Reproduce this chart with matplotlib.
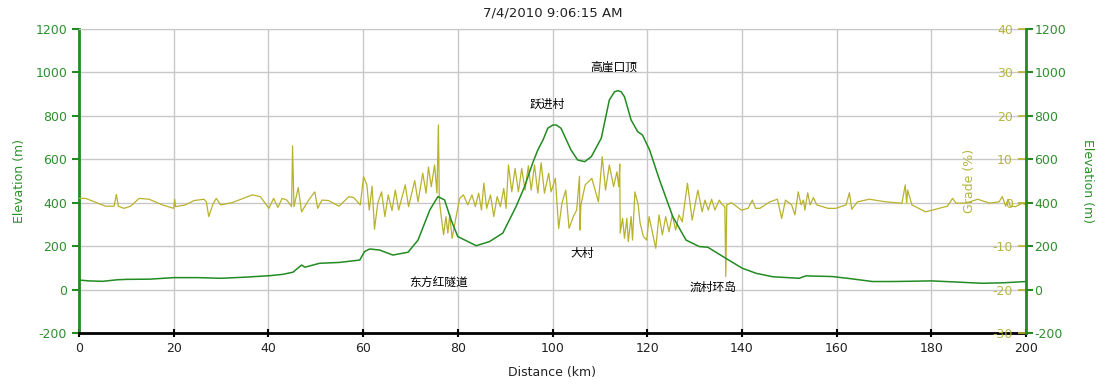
import matplotlib
matplotlib.use('Agg')
import matplotlib.pyplot as plt

plt.rcParams['font.family'] = ['DejaVu Sans', 'Noto Sans CJK SC']
plt.rcParams['axes.unicode_minus'] = False

# elevation profile (km, m)
dist_km = [0, 2, 5, 8, 10, 15, 20, 25, 30, 35, 40.3, 43, 45.2, 47.0, 47.7, 50.8, 55,
           59.3, 60.3, 61.4, 63.5, 66.3, 69.5, 71.6, 74.1, 75.8, 77.2, 78.6, 80.0,
           83.9, 86.7, 89.5, 92.3, 94.1, 95.8, 96.9, 98.0, 99.0, 100.1, 100.8, 101.8,
           103.9, 105.3, 106.8, 108.2, 110.3, 112.0, 113.1, 113.8, 114.5, 115.2, 115.9,
           116.6, 118.0, 119.0, 120.5, 122.6, 125.4, 128.2, 131.0, 132.8, 136.6, 140.1,
           143, 146.5, 152.1, 153.5, 159.1, 163, 167.6, 171.1, 175, 180, 185, 190.7,
           195, 200]
elev_m = [44, 40, 38, 45, 47, 48, 55, 55, 52, 57, 64, 70, 80, 113, 103, 121, 125,
          136, 175, 187, 182, 159, 172, 228, 367, 428, 413, 320, 244,
          202, 221, 260, 382, 474, 582, 643, 689, 743, 758, 758, 743,
          643, 597, 589, 612, 697, 873, 911, 916, 911, 888, 835,
          781, 727, 712, 643, 505, 336, 228, 198, 195, 144, 98,
          75, 59, 52, 63, 60, 50, 37, 37, 38, 40, 35, 29,
          31, 37]

# grade (km, %)
grade_km = [0, 1.4, 2.8, 5.6, 7.4, 7.9, 8.3, 9.5, 10.9, 12.7, 14.8, 17.6, 20.0, 20.2, 20.4,
            22.5, 24.3, 26.4, 26.9, 27.4, 28.3, 29.0, 29.9, 32.3, 36.6, 38.3, 40.1, 41.1,
            42.0, 42.9, 43.9, 44.9, 45.1, 45.4, 46.3, 47.0, 48.5, 49.8, 50.4, 51.3, 52.7,
            54.9, 57.0, 58.0, 59.4, 60.1, 60.8, 61.3, 61.9, 62.4, 63.1, 63.9, 64.6, 65.3,
            66.1, 66.8, 67.5, 68.9, 69.6, 70.9, 71.6, 72.6, 73.3, 73.8, 74.4, 75.1, 75.6,
            75.9, 76.1, 76.5, 77.0, 77.5, 77.9, 78.3, 78.8, 79.5, 80.4, 81.2, 82.1, 83.0,
            83.7, 84.4, 85.0, 85.5, 86.1, 86.9, 87.6, 88.3, 89.0, 89.7, 90.2, 90.7, 91.4,
            92.1, 92.8, 93.5, 94.2, 94.9, 95.5, 96.2, 96.9, 97.6, 98.3, 99.2, 99.7, 100.6,
            101.3, 102.0, 102.8, 103.5, 104.4, 105.1, 105.7, 105.8, 106.0, 106.9, 108.3,
            109.7, 110.5, 111.2, 112.0, 112.9, 113.6, 114.0, 114.2, 114.3, 114.8, 115.2,
            115.7, 116.0, 116.6, 116.9, 117.4, 118.1, 118.5, 119.2, 119.9, 120.4, 121.0,
            121.8, 122.5, 123.2, 123.9, 124.6, 125.3, 126.0, 126.7, 127.4, 128.5, 129.5,
            130.7, 131.6, 132.2, 132.9, 133.6, 134.3, 135.2, 135.9, 136.4, 136.6, 136.8,
            137.8, 139.9, 141.3, 142.2, 142.9, 143.8, 145.9, 147.5, 148.4, 149.2, 150.5,
            151.2, 151.9, 152.5, 153.0, 153.3, 153.9, 154.4, 155.1, 155.8, 158.2, 159.8,
            162.0, 162.7, 163.2, 164.4, 166.9, 170.4, 173.8, 174.5, 174.8, 175.0, 175.9,
            178.8, 183.4, 184.5, 185.2, 187.3, 189.8, 192.3, 194.3, 195.0, 195.7, 196.2,
            196.7, 197.8, 199.2, 200]
grade_pct = [1.0, 1.0, 0.4, -0.8, -0.8, 1.9, -0.8, -1.3, -0.8, 1.0, 0.8, -0.5, -1.3, 0.8, -0.9,
             -0.5, 0.5, 0.8, 0.2, -3.2, -0.3, 1.0, -0.5, 0.0, 1.8, 1.4, -1.3, 1.0,
             -1.1, 1.0, 0.6, -0.9, 13.1, -0.9, 3.5, -2.1, 0.6, 2.5, -1.3, 0.6, 0.5,
             -0.8, 1.4, 1.2, -0.5, 6.0, 4.1, -1.7, 3.8, -6.1, -0.1, 2.5, -3.2, 1.8,
             -1.8, 2.9, -1.7, 4.1, -0.9, 5.1, 0.2, 6.8, 2.2, 8.2, 3.7, 8.7, 2.2,
             17.9, 0.6, -3.2, -7.4, -3.2, -7.0, -2.8, -8.2, -4.0, 1.0, 1.8, -0.5, 1.8,
             -0.9, 2.2, -1.7, 4.5, -1.3, 1.8, -3.2, 1.4, -0.9, 3.3, -1.3, 8.7, 2.5,
             7.9, 2.5, 7.9, 2.9, 8.5, 2.9, 8.7, 2.2, 9.2, 2.2, 6.8, 2.5, 5.6,
             -5.9, -0.1, 2.9, -5.9, -3.2, -1.7, 6.1, -6.3, -0.5, 4.1, 5.6,
             0.2, 10.6, 2.9, 8.7, 3.7, 7.1, 3.7, 8.9, -7.0, -3.6, -8.2,
             -3.6, -9.0, -3.2, -8.6, 2.5, -0.5, -4.7, -7.8, -8.6, -3.2, -6.3,
             -10.5, -2.8, -7.4, -3.2, -6.7, -2.8, -6.3, -2.8, -4.4, 4.5, -4.0,
             2.9, -2.1, 0.6, -1.7, 0.8, -1.7, 0.6, -0.5, -0.9, -17.0, -0.5,
             0.0, -1.7, -1.3, 0.6, -1.3, -1.3, 0.2, 0.8, -3.6, 0.6, -0.5,
             -2.8, 2.5, -0.5, 0.6, -1.7, 2.3, -0.5, 1.2, -0.5, -1.3, -1.3,
             -0.5, 2.3, -1.5, 0.2, 0.8, 0.2, -0.1, 4.1, -0.1, 2.9, -0.5,
             -2.1, -0.8, 1.0, -0.1, -0.1, 0.8, -0.1, 0.2, 1.4, -0.8, 0.8,
             -0.8, -0.9, -0.1, -0.5]

places = ['高崖口顶', '跃进村', '东方红隧道', '大村', '流村环岛']
place_km = [112.9, 98.9, 75.9, 106.3, 133.8]
place_m = [1025, 854, 35, 164, 12]

green = '#228b22'
label_green = '#2e8f2e'
olive = '#b8b22c'
olive_lbl = '#b5b540'

fig = plt.figure(figsize=(11.08, 3.87), dpi=100)
ax = fig.add_axes([79 / 1108, 1 - 333 / 387, 947 / 1108, 304 / 387])
ax.set_xlim(0, 200)
ax.set_ylim(-200, 1200)
ax.set_xticks(range(0, 201, 20))
ax.set_yticks(range(-200, 1201, 200))
ax.grid(True, color='#c8c8c8', lw=1)
ax.tick_params(axis='y', colors=green, labelcolor=label_green, labelsize=9, length=5, width=1.5)
ax.tick_params(axis='x', colors='black', labelcolor='#222222', labelsize=9, direction='inout', length=6, width=1.5)
ax.spines['left'].set_color(green)
ax.spines['left'].set_linewidth(2)
ax.spines['bottom'].set_color('black')
ax.spines['bottom'].set_linewidth(2)
ax.spines['top'].set_color('#c8c8c8')
ax.spines['right'].set_visible(False)
ax.set_ylabel('Elevation (m)', color=label_green, fontsize=9, labelpad=7)
ax.set_xlabel('Distance (km)', color='#222222', fontsize=9, labelpad=8)
ax.set_title('7/4/2010 9:06:15 AM', fontsize=9.5, color='#222222', pad=9)

# grade axis, ticks inside
ax_g = ax.twinx()
ax_g.set_ylim(-30, 40)
ax_g.set_yticks(range(-30, 41, 10))
ax_g.tick_params(axis='y', direction='in', colors=olive, labelcolor=olive_lbl, labelsize=9,
                 length=6, width=1.2, pad=-9.5)
for lbl in ax_g.get_yticklabels():
    lbl.set_horizontalalignment('right')
for s in ax_g.spines.values():
    s.set_visible(False)
ax_g.plot(grade_km, grade_pct, color=olive, lw=0.9)
ax_g.text(0.9405, 0.5, 'Grade (%)', transform=ax_g.transAxes, rotation=90,
          ha='center', va='center', color=olive_lbl, fontsize=9)

# elevation on right axis, drawn on top
ax_r = ax.twinx()
ax_r.set_ylim(-200, 1200)
ax_r.set_yticks(range(-200, 1201, 200))
ax_r.tick_params(axis='y', colors=green, labelcolor=label_green, labelsize=9, length=5, width=1.5, pad=1)
for s in ['left', 'top', 'bottom']:
    ax_r.spines[s].set_visible(False)
ax_r.spines['right'].set_color(green)
ax_r.spines['right'].set_linewidth(2)
ax_r.set_ylabel('Elevation (m)', color=label_green, fontsize=9, rotation=270, labelpad=20)
ax_r.plot(dist_km, elev_m, color=green, lw=1.1)

for name, x, y in zip(places, place_km, place_m):
    ax_r.text(x, y, name, ha='center', va='center', fontsize=8.5, color='black',
              family=['Noto Sans CJK SC', 'DejaVu Sans'])

fig.savefig('out.png', dpi=100)
